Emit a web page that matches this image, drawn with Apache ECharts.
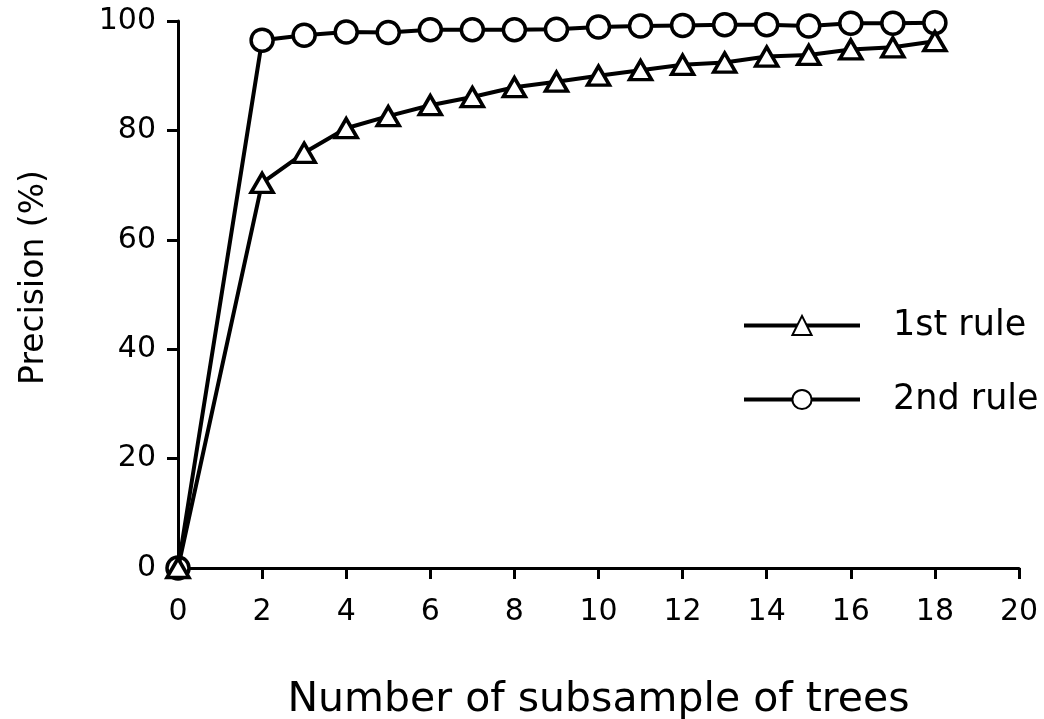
<!DOCTYPE html>
<html>
<head>
<meta charset="utf-8">
<script src="https://cdn.jsdelivr.net/npm/echarts@6/dist/echarts.min.js"></script>
<style>
html, body { margin: 0; padding: 0; background: #fff; }
#main { width: 1044px; height: 719px; }
</style>
</head>
<body>
<div id="main"></div>
<script>
var chart = echarts.init(document.getElementById('main'));

// data
var trees = [0, 2, 3, 4, 5, 6, 7, 8, 9, 10, 11, 12, 13, 14, 15, 16, 17, 18];
var rule1 = [0, 70.4, 75.9, 80.4, 82.6, 84.6, 86.1, 87.9, 88.9, 90.0, 91.0, 92.0, 92.4, 93.5, 93.8, 94.8, 95.2, 96.3];
var rule2 = [0, 96.5, 97.4, 98.0, 97.9, 98.4, 98.4, 98.4, 98.5, 98.9, 99.1, 99.2, 99.3, 99.3, 99.1, 99.6, 99.6, 99.7];

function pairs(xs, ys) {
    return xs.map(function (x, i) { return [x, ys[i]]; });
}

var font = 'DejaVu Sans';

var option = {
    animation: false,
    backgroundColor: '#fff',
    grid: {
        left: 178,
        right: 25,
        top: 21,
        bottom: 151,
        containLabel: false,
        outerBoundsMode: 'none'   // keep the plot box fixed
    },
    legend: {
        orient: 'vertical',
        left: 737,
        top: 303,
        itemWidth: 116,
        itemHeight: 24,
        itemGap: 39,
        data: ['1st rule', '2nd rule'],
        lineStyle: { width: 4 },
        textStyle: {
            fontFamily: font,
            fontSize: 35,
            color: '#000',
            padding: [0, 0, 0, 28]
        }
    },
    xAxis: {
        type: 'value',
        min: 0,
        max: 20,
        interval: 2,
        name: 'Number of subsample of trees',
        nameLocation: 'middle',
        nameGap: 112,
        nameTextStyle: { fontFamily: font, fontSize: 41, color: '#000' },
        axisLine: { lineStyle: { color: '#000', width: 3 } },
        axisTick: { length: 11, lineStyle: { color: '#000', width: 3 } },
        axisLabel: { fontFamily: font, fontSize: 30, color: '#000', margin: 29 },
        splitLine: { show: false }
    },
    yAxis: {
        type: 'value',
        min: 0,
        max: 100,
        interval: 20,
        name: 'Precision (%)',
        nameLocation: 'middle',
        nameGap: 127,
        nameTextStyle: { fontFamily: font, fontSize: 33, color: '#000', padding: [0, 0, 0, 34] },
        axisLine: { lineStyle: { color: '#000', width: 3 } },
        axisTick: { length: 11, lineStyle: { color: '#000', width: 3 } },
        axisLabel: { fontFamily: font, fontSize: 30, color: '#000', margin: 22 },
        splitLine: { show: false }
    },
    series: [
        {
            name: '2nd rule',
            type: 'line',
            data: pairs(trees, rule2),
            clip: false,
            z: 2,
            symbol: 'circle',
            symbolSize: 22,
            lineStyle: { color: '#000', width: 4 },
            itemStyle: { color: '#fff', borderColor: '#000', borderWidth: 3.5 }
        },
        {
            name: '1st rule',
            type: 'line',
            data: pairs(trees, rule1),
            clip: false,
            z: 3,
            symbol: 'triangle',
            symbolSize: [22, 19],
            lineStyle: { color: '#000', width: 4 },
            itemStyle: { color: '#fff', borderColor: '#000', borderWidth: 3.5 }
        }
    ]
};

chart.setOption(option);
</script>
</body>
</html>
